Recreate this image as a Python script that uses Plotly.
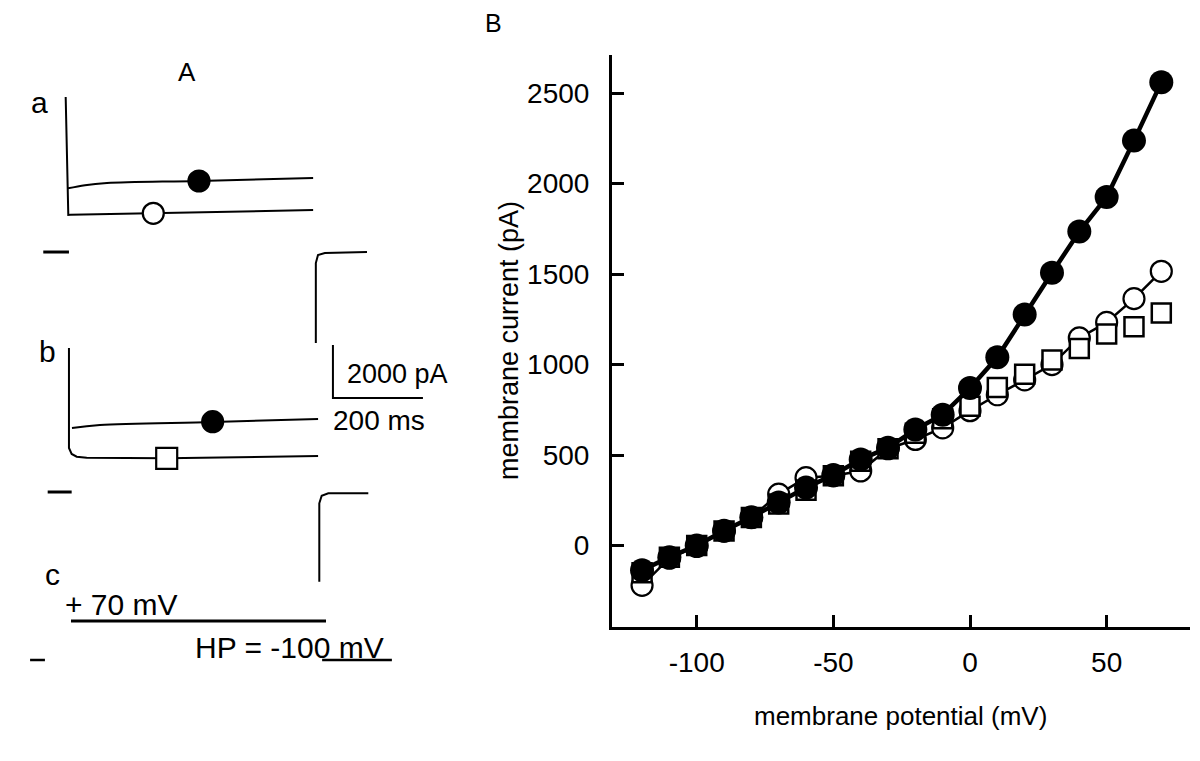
import plotly.graph_objects as go

# The page body has an 8 px default margin; the figure is sized to fit inside it.
PAGE_W, PAGE_H, BODY_MARGIN = 1200, 761, 8
W, H = PAGE_W - BODY_MARGIN, PAGE_H - BODY_MARGIN
FONT = "Liberation Sans, Arial, sans-serif"

# ---------------- Panel B: I-V relation ----------------
potential_mV = [-120, -110, -100, -90, -80, -70, -60, -50, -40, -30,
                -20, -10, 0, 10, 20, 30, 40, 50, 60, 70]
current_filled_pA = [-137, -64, 0, 82, 156, 238, 320, 390, 476, 540,
                     641, 723, 870, 1040, 1277, 1507, 1735, 1925, 2237, 2559]
current_open_pA = [-220, -70, -5, 80, 155, 284, 375, 385, 412, 535,
                   586, 650, 745, 833, 915, 1000, 1147, 1233, 1364, 1515]
current_square_pA = [-150, -65, 0, 80, 155, 230, 305, 385, 465, 535,
                     620, 700, 770, 873, 947, 1025, 1088, 1168, 1209, 1285]
x_ticks = [-100, -50, 0, 50]
x_tick_labels = ["-100", "-50", "0", "50"]
y_ticks = [0, 500, 1000, 1500, 2000, 2500]
y_tick_labels = ["0", "500", "1000", "1500", "2000", "2500"]

# ---------------- Panel A: current traces (time ms, current pA) ----------------
# sweep a
a_filled_t = [2.2, 40, 88.9, 293, 547]
a_filled_I = [2400, 2520, 2600, 2680, 2790]
a_open_t = [-2.9, 2.9, 8, 191, 547]
a_open_I = [5840, 1395, 1400, 1470, 1583]
a_tail_t = [553, 553, 557.8, 573, 666.7]
a_tail_I = [-3431, -415, -113, -38, 0]
a_zero_t = [-52.7, 4.4]
a_zero_I = [0, 0]
a_mark_filled = (293.3, 2677)
a_mark_open = (191.8, 1459)

# sweep b
b_filled_t = [11.1, 73.3, 324, 558]
b_filled_I = [2413, 2526, 2639, 2752]
b_open_t = [4.4, 4.4, 10.4, 21.6, 43.8, 221.6, 558]
b_open_I = [5429, 1659, 1433, 1331, 1293, 1270, 1357]
b_tail_t = [560.7, 560.7, 566, 580.7, 669.6]
b_tail_I = [-3382, -426, -139, -49, -49]
b_zero_t = [-42.9, 10.4]
b_zero_I = [0, 0]
b_mark_filled = (323.7, 2650)
b_mark_square = (221.6, 1270)

# scale bar (2000 pA, 200 ms)
scale_t = [591, 591, 791]
scale_I = [5544, 3544, 3544]

# sweep c: voltage protocol (mV)
step_t = [8.9, 575.6]
step_V = [70, 70]
hold_t = [567, 722]
hold_V = [-100, -100]
c_zero_t = [-82, -49]
c_zero_V = [-100, -100]


def fx(px):
    return (px - BODY_MARGIN) / W


def fy(py):
    return 1 - (py - BODY_MARGIN) / H


fig = go.Figure()

# Panel B traces
fig.add_trace(go.Scatter(
    x=potential_mV, y=current_open_pA, mode="lines+markers",
    line=dict(color="black", width=2.5),
    marker=dict(symbol="circle", size=21, color="white",
                line=dict(color="black", width=2.2)),
    xaxis="x", yaxis="y"))
fig.add_trace(go.Scatter(
    x=potential_mV, y=current_square_pA, mode="markers",
    marker=dict(symbol="square", size=19, color="white",
                line=dict(color="black", width=2.5)),
    xaxis="x", yaxis="y"))
fig.add_trace(go.Scatter(
    x=potential_mV, y=current_filled_pA, mode="lines+markers",
    line=dict(color="black", width=4.5),
    marker=dict(symbol="circle", size=24, color="black",
                line=dict(color="black", width=0)),
    xaxis="x", yaxis="y"))


# Panel A traces
def line(t, v, ya, width=2, shape="linear"):
    fig.add_trace(go.Scatter(x=t, y=v, mode="lines",
                             line=dict(color="black", width=width, shape=shape),
                             xaxis="x2", yaxis=ya))


def mark(pt, ya, symbol, fill):
    fig.add_trace(go.Scatter(x=[pt[0]], y=[pt[1]], mode="markers",
                             marker=dict(symbol=symbol, size=21, color=fill,
                                         line=dict(color="black", width=2.2)),
                             xaxis="x2", yaxis=ya, cliponaxis=False))


line(a_open_t, a_open_I, "y2")
line(a_filled_t, a_filled_I, "y2", shape="spline")
line(a_tail_t, a_tail_I, "y2")
line(a_zero_t, a_zero_I, "y2", 3)
mark(a_mark_open, "y2", "circle", "white")
mark(a_mark_filled, "y2", "circle", "black")

line(b_open_t, b_open_I, "y3")
line(b_filled_t, b_filled_I, "y3", shape="spline")
line(b_tail_t, b_tail_I, "y3")
line(b_zero_t, b_zero_I, "y3", 3)
line(scale_t, scale_I, "y3", 2)
mark(b_mark_square, "y3", "square", "white")
mark(b_mark_filled, "y3", "circle", "black")

line(step_t, step_V, "y4", 3)
line(hold_t, hold_V, "y4", 2.5)
line(c_zero_t, c_zero_V, "y4", 2.5)

axis_common = dict(showline=True, linewidth=3, linecolor="black", mirror=False,
                   ticks="inside", ticklen=12, tickwidth=2.5, tickcolor="black",
                   showgrid=False, zeroline=False,
                   tickfont=dict(family=FONT, size=28, color="black"))

fig.update_layout(
    width=W, height=H, autosize=False,
    margin=dict(l=0, r=0, t=0, b=0),
    paper_bgcolor="white", plot_bgcolor="white",
    showlegend=False,
    font=dict(family=FONT, color="black"),
    xaxis=dict(domain=[fx(612), fx(1190)], range=[-131, 80.5],
               tickvals=x_ticks, ticktext=x_tick_labels, anchor="y",
               ticklabelstandoff=8, **axis_common),
    yaxis=dict(domain=[fy(627), fy(55)], range=[-450, 2710],
               tickvals=y_ticks, ticktext=y_tick_labels, anchor="x",
               ticklabelstandoff=14, **axis_common),
    xaxis2=dict(domain=[fx(20), fx(430)], range=[-104.4, 806.7],
                visible=False, anchor="y2"),
    yaxis2=dict(domain=[fy(344), fy(88)], range=[-3468, 6183],
                visible=False, anchor="x2"),
    yaxis3=dict(domain=[fy(586), fy(344)], range=[-3544, 5580],
                visible=False, anchor="x2"),
    yaxis4=dict(domain=[fy(680), fy(595)], range=[-187.2, 183.4],
                visible=False, anchor="x2"),
)


def text(s, px, py, size=26, xanchor="center", angle=0, yanchor="middle"):
    fig.add_annotation(text=s, x=fx(px), y=fy(py), xref="paper", yref="paper",
                       showarrow=False, xanchor=xanchor, yanchor=yanchor,
                       textangle=angle, borderpad=0,
                       font=dict(family=FONT, size=size, color="black"))


text("membrane current (pA)", 509, 341, 27, angle=-90)
text("membrane potential (mV)", 900, 716, 26)
text("B", 493, 8, 25, yanchor="top")
text("A", 187, 72, 26)
text("a", 39, 102, 30)
text("b", 47, 351, 30)
text("c", 52, 574, 30)
text("2000 pA", 346, 374, 27, xanchor="left")
text("200 ms", 332, 421, 28, xanchor="left")
text("+ 70 mV", 64, 604, 30, xanchor="left")
text("HP = -100 mV", 194, 647, 30, xanchor="left")

fig.write_html("out.html")
